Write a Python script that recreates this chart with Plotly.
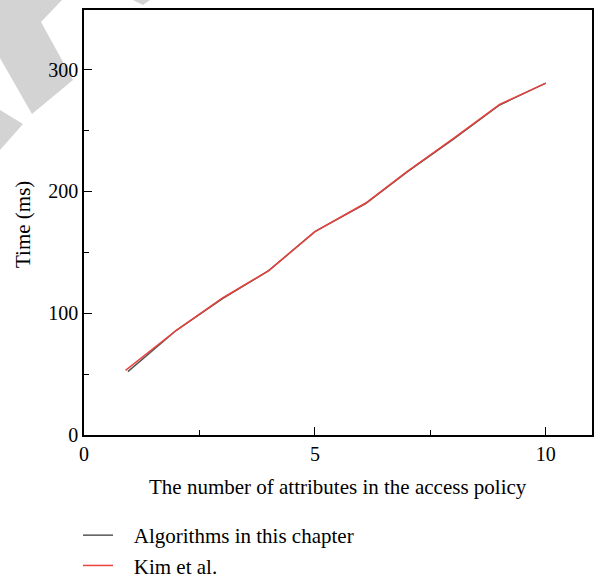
import plotly.graph_objects as go

# Data
x_alg = [0.95, 2, 3, 4, 5, 6.1, 7, 8, 9, 10]
y_alg = [52, 86, 112, 135, 167, 190, 216, 243, 271, 289]
x_kim = [0.9, 2, 3, 4, 5, 6.1, 7, 8, 9, 10]
y_kim = [53, 86, 112.5, 135, 167, 190.5, 216.5, 243.5, 271.5, 289]

series_names = ["Algorithms in this chapter", "Kim et al."]
x_ticks = [0, 5, 10]
y_ticks = [0, 100, 200, 300]
x_title = "The number of attributes in the access policy"
y_title = "Time (ms)"

W, H = 596, 580
L, R, T, B = 84, 4, 10, 145
pw, ph = W - L - R, H - T - B

def px(xp, yp):
    return (xp - L) / pw, (H - B - yp) / ph

def poly(pts):
    s = ""
    for i, (a, b) in enumerate(pts):
        u, v = px(a, b)
        s += ("M" if i == 0 else "L") + f"{u:.4f},{v:.4f} "
    return s + "Z"

FONT = "Liberation Serif"
NB = "\u00a0\u00a0\u00a0"

fig = go.Figure()
fig.add_trace(go.Scatter(x=x_alg, y=y_alg, mode="lines", name=NB + series_names[0],
                         line=dict(color="#555555", width=1.5)))
fig.add_trace(go.Scatter(x=x_kim, y=y_kim, mode="lines", name=NB + series_names[1],
                         line=dict(color="#e8433c", width=1.5)))

shapes = []
for pts in [
    [(0, 0), (62, 0), (41, 22), (73, 80), (32, 114), (0, 58)],
    [(0, 110), (23, 124), (0, 150)],
    [(133, 0), (150, 0), (143, 5)],
]:
    shapes.append(dict(type="path", xref="paper", yref="paper", path=poly(pts),
                       fillcolor="#d3d3d3", line=dict(width=0), layer="below"))

axis_common = dict(
    showline=True, linecolor="black", linewidth=1.5, mirror=True,
    ticks="inside", ticklen=8, tickwidth=1.2, tickcolor="black",
    showgrid=False, zeroline=False, automargin=False,
    tickfont=dict(family=FONT, size=20, color="black"),
)

annotations = [
    dict(text=x_title, xref="paper", yref="paper", x=px(338, 0)[0], y=px(0, 487)[1],
         showarrow=False, xanchor="center", yanchor="middle",
         font=dict(family=FONT, size=21, color="black")),
    dict(text=y_title, xref="paper", yref="paper", x=px(23, 0)[0], y=px(0, 225)[1],
         showarrow=False, xanchor="center", yanchor="middle", textangle=-90,
         font=dict(family=FONT, size=21, color="black")),
]

fig.update_layout(
    width=W, height=H,
    margin=dict(l=L, r=R, t=T, b=B, autoexpand=False),
    paper_bgcolor="white", plot_bgcolor="white",
    font=dict(family=FONT, size=20, color="black"),
    shapes=shapes,
    annotations=annotations,
    xaxis=dict(range=[0, 11], tickvals=x_ticks,
               minor=dict(tickvals=[2.5, 7.5], ticklen=5, ticks="inside", tickcolor="black"),
               **axis_common),
    yaxis=dict(range=[0, 349], tickvals=y_ticks,
               minor=dict(tickvals=[50, 150, 250], ticklen=5, ticks="inside", tickcolor="black"),
               **axis_common),
    legend=dict(xref="container", yref="container", x=78 / W, y=1 - 515 / H,
                xanchor="left", yanchor="top",
                font=dict(family=FONT, size=21), tracegroupgap=0,
                bgcolor="rgba(0,0,0,0)"),
    showlegend=True,
)

fig.write_html("out.html", config={"displayModeBar": False})
with open("out.html", encoding="utf-8") as f:
    html = f.read()
html = html.replace("<head>", "<head><style>html,body{margin:0;padding:0;overflow:hidden;}</style>", 1)
with open("out.html", "w", encoding="utf-8") as f:
    f.write(html)
